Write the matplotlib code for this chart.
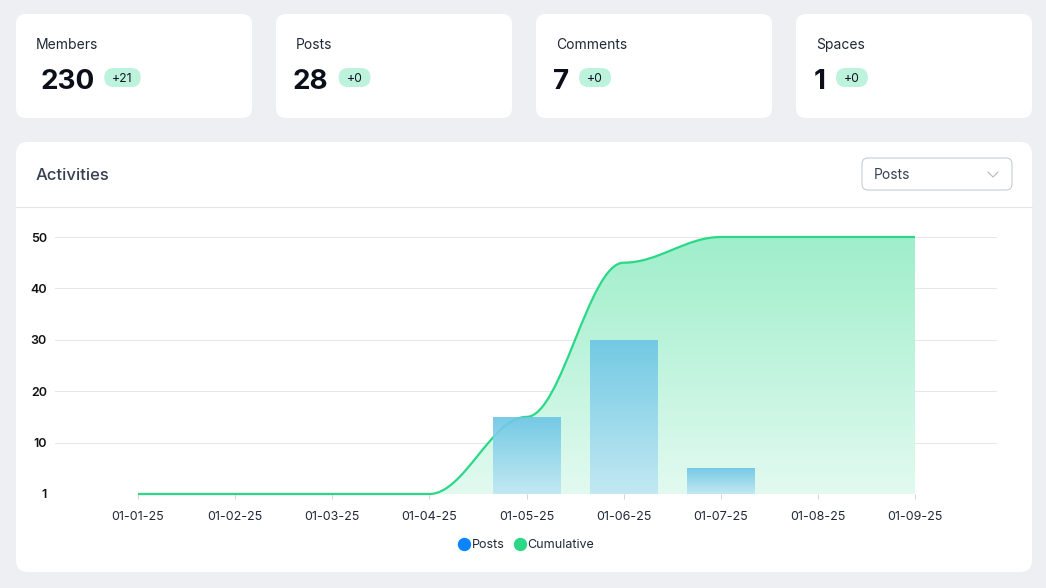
import matplotlib
matplotlib.use("Agg")
import matplotlib.pyplot as plt
import numpy as np
from matplotlib.patches import FancyBboxPatch, PathPatch
from matplotlib.path import Path
from matplotlib.lines import Line2D
from matplotlib.colors import LinearSegmentedColormap

plt.rcParams['font.family'] = ['Inter', 'DejaVu Sans']

W, H = 1046, 588

# stat cards
card_titles = ["Members", "Posts", "Comments", "Spaces"]
card_values = ["230", "28", "7", "1"]
card_deltas = ["+21", "+0", "+0", "+0"]

# activities chart
months = ["01-01-25", "01-02-25", "01-03-25", "01-04-25", "01-05-25",
          "01-06-25", "01-07-25", "01-08-25", "01-09-25"]
posts = [0, 0, 0, 0, 15, 30, 5, 0, 0]
cumulative = [0, 0, 0, 0, 15, 45, 50, 50, 50]
y_ticks = [0, 10, 20, 30, 40, 50]
y_labels = ["1", "10", "20", "30", "40", "50"]

BG = "#edeff3"
TEXT = "#1f2937"
GREEN = "#2bd887"
BLUE = "#0a84ff"

fig = plt.figure(figsize=(W / 100, H / 100), dpi=100)
fig.patch.set_facecolor(BG)

# background axes in pixel coords (origin top-left)
bg = fig.add_axes([0, 0, 1, 1])
bg.set_xlim(0, W)
bg.set_ylim(H, 0)
bg.axis("off")


def card(x0, y0, x1, y1, r=10):
    p = FancyBboxPatch((x0 + r, y0 + r), x1 - x0 - 2 * r, y1 - y0 - 2 * r,
                       boxstyle=f"round,pad={r}", fc="white", ec="none")
    bg.add_patch(p)


renderer = fig.canvas.get_renderer()
num_offsets = [24, 17, 17, 18]
for i in range(4):
    cx = 16 + i * 260
    card(cx, 14, cx + 236, 118)
    bg.text(cx + 20, 49, card_titles[i], fontsize=10, color=TEXT, va="baseline")
    t = bg.text(cx + num_offsets[i], 89, card_values[i], fontsize=20,
                fontweight="bold", color="#0b0f19", va="baseline")
    bb = t.get_window_extent(renderer)
    bx = bb.x1 + 10
    bt = bg.text(0, 0, card_deltas[i], fontsize=8.8, color="#111827")
    tw = bt.get_window_extent(renderer).width
    bw = tw + 16
    pill = FancyBboxPatch((bx + 9.5, 68 + 9.5), bw - 19, 0.01,
                          boxstyle="round,pad=9.5", fc="#bdf2dc", ec="none")
    bg.add_patch(pill)
    bt.set_position((bx + bw / 2, 82))
    bt.set_ha("center")
    bt.set_va("baseline")

# main panel
card(16, 142, 1032, 572, r=12)
bg.text(36, 180, "Activities", fontsize=12, color="#374151",
        fontweight="medium", va="baseline")
bg.plot([16, 1032], [206.5, 206.5], color="#e5e7eb", lw=0.8)

# dropdown
dd = FancyBboxPatch((862 + 6, 158 + 6), 150 - 12, 32 - 12,
                    boxstyle="round,pad=6", fc="white", ec="#c9cdd3", lw=0.8)
bg.add_patch(dd)
bg.text(874, 179, "Posts", fontsize=10, color="#374151", va="baseline")
bg.plot([988, 993, 998], [172, 177, 172], color="#b4b9c0", lw=0.8)

# chart axes
left, right, top, base = 55, 997, 237, 494
ax = fig.add_axes([left / W, 1 - base / H, (right - left) / W, (base - top) / H])
ax.set_facecolor("none")
x = np.arange(len(months))
step = (915 - 138) / 8
xlim = (-(138 - left) / step, 8 + (right - 915) / step)

for s in ax.spines.values():
    s.set_visible(False)
ax.set_yticks(y_ticks)
ax.set_yticklabels(y_labels)
ax.set_xticks(x)
ax.set_xticklabels(months)
ax.tick_params(axis="y", length=0, pad=5.8, labelsize=9, labelcolor="#111")
ax.tick_params(axis="x", length=3.6, width=0.7, color="#d1d5db", pad=8.5,
               labelsize=9, labelcolor=TEXT)
for lab in ax.get_yticklabels():
    lab.set_fontweight("semibold")
ax.grid(axis="y", color="#e5e7eb", lw=0.75, zorder=0)
ax.set_axisbelow(True)


# smooth cumulative curve: cubic beziers with flat handles at each point
def smooth_path(xs, ys, k=0.36):
    verts = [(xs[0], ys[0])]
    codes = [Path.MOVETO]
    for i in range(len(xs) - 1):
        dx = (xs[i + 1] - xs[i]) * k
        verts += [(xs[i] + dx, ys[i]), (xs[i + 1] - dx, ys[i + 1]),
                  (xs[i + 1], ys[i + 1])]
        codes += [Path.CURVE4] * 3
    return verts, codes


verts, codes = smooth_path(x, cumulative)
fill_path = Path(verts + [(x[-1], 0), (x[0], 0), (x[0], 0)],
                 codes + [Path.LINETO, Path.LINETO, Path.CLOSEPOLY])
fill_patch = PathPatch(fill_path, fc="none", ec="none", zorder=1)
ax.add_patch(fill_patch)
green_cmap = LinearSegmentedColormap.from_list("g", ["#e2faf0", "#9feecb"])
grad = np.linspace(0, 1, 256).reshape(-1, 1)
im = ax.imshow(grad, cmap=green_cmap, origin="lower", aspect="auto",
               extent=[x[0], x[-1], 0, max(cumulative)], zorder=1)
im.set_clip_path(fill_patch)

line_patch = PathPatch(Path(verts, codes), fc="none", ec=GREEN, lw=1.6,
                       zorder=3, clip_on=False)
ax.add_patch(line_patch)

# bars with vertical gradient
blue_cmap = LinearSegmentedColormap.from_list("b", ["#bfe7f3", "#6ac5e5"])
bw = 0.7
bars = ax.bar(x, posts, width=bw, color="none", zorder=4)
for xi, v, b in zip(x, posts, bars):
    if v <= 0:
        continue
    bim = ax.imshow(grad, cmap=blue_cmap, origin="lower", aspect="auto",
                    extent=[xi - bw / 2, xi + bw / 2, 0, v], zorder=4, alpha=0.9)
    bim.set_clip_path(b)

ax.set_xlim(*xlim)
ax.set_ylim(0, 50)

# legend
handles = [Line2D([], [], marker="o", ls="", ms=8.6, color=BLUE),
           Line2D([], [], marker="o", ls="", ms=8.6, color=GREEN)]
fig.legend(handles, ["Posts", "Cumulative"], loc="center", ncol=2,
           bbox_to_anchor=(527 / W, 1 - 545 / H), frameon=False, fontsize=9,
           handlelength=0.7, handletextpad=0.25, columnspacing=0.9,
           labelcolor=TEXT)

fig.savefig("out.png", dpi=100, facecolor=BG)
